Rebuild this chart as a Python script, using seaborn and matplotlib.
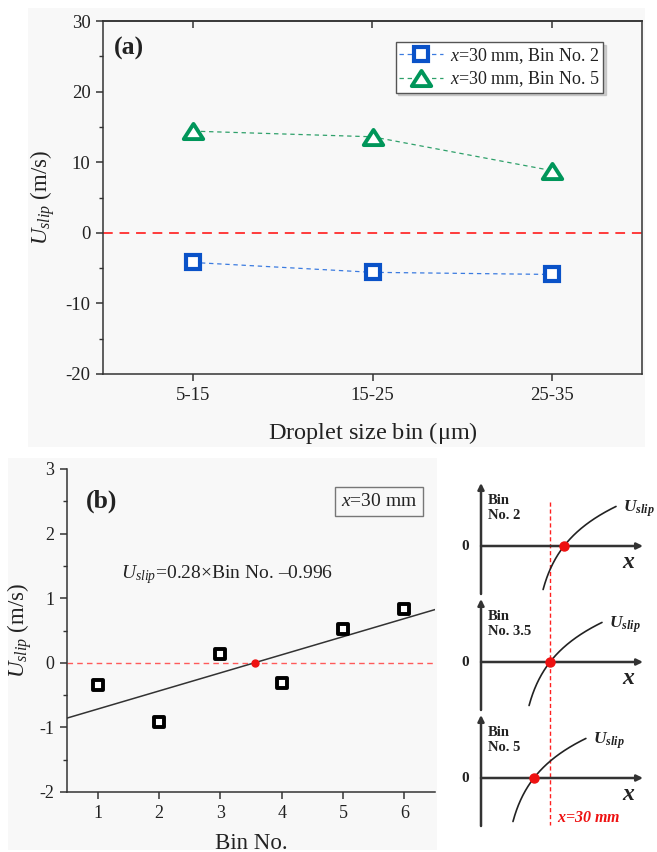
import numpy as np
import pandas as pd
import matplotlib
matplotlib.use("Agg")
import matplotlib.pyplot as plt
from matplotlib.patches import Rectangle
from matplotlib.lines import Line2D
from matplotlib.path import Path
from matplotlib.ticker import MultipleLocator
import seaborn as sns

# ---- panel (a): slip velocity per droplet size bin ----
size_bins = ["5-15", "15-25", "25-35"]
uslip_bin2 = [-4.2, -5.6, -5.9]
uslip_bin5 = [14.4, 13.6, 8.8]
series_labels = [r"$x$=30 mm, Bin No. 2", r"$x$=30 mm, Bin No. 5"]

# ---- panel (b): slip velocity vs bin number at x = 30 mm ----
bin_no = [1, 2, 3, 4, 5, 6]
uslip_30mm = [-0.35, -0.92, 0.14, -0.32, 0.53, 0.83]
fit_slope = 0.28
fit_intercept = -0.996

# ---- schematic: sign change of U_slip along x ----
sketch_bins = ["No. 2", "No. 3.5", "No. 5"]
sketch_crossings = [36.1, 30.0, 23.0]  # x (mm) where U_slip = 0
sketch_x_ref = 30.0

sns.set_theme(style="ticks")
plt.rcParams.update({
    "font.family": ["Liberation Serif", "DejaVu Serif"],
    "mathtext.fontset": "custom",
    "mathtext.rm": "Liberation Serif",
    "mathtext.it": "Liberation Serif:italic",
    "mathtext.bf": "Liberation Serif:bold",
    "mathtext.bfit": "Liberation Serif:bold:italic",
    "axes.unicode_minus": False,
    "axes.edgecolor": "#333333",
    "axes.linewidth": 1.1,
    "xtick.color": "#333333",
    "ytick.color": "#333333",
    "xtick.labelcolor": "#222222",
    "ytick.labelcolor": "#222222",
    "text.color": "#222222",
    "axes.labelcolor": "#222222",
})

W, H = 657, 852
fig = plt.figure(figsize=(W / 100, H / 100), dpi=100)
fig.patch.set_facecolor("white")


def box(l, t, r, b):
    return [l / W, 1 - b / H, (r - l) / W, (b - t) / H]


panel_bg = "#f8f8f8"
for l, t, r, b in [(28, 8, 645, 447), (8, 458, 437, 850)]:
    fig.patches.append(Rectangle((l / W, 1 - b / H), (r - l) / W, (b - t) / H,
                                 transform=fig.transFigure, facecolor=panel_bg,
                                 edgecolor="none", zorder=-10))

# ================= panel (a) =================
ax_a = fig.add_axes(box(103, 21, 642, 374))
ax_a.set_facecolor("none")
ax_a.set_zorder(2)
xpos = np.arange(len(size_bins))

blue_mk, blue_ln = "#0a52c8", "#3b7be0"
green_mk, green_ln = "#00965a", "#2ea06a"
tri = Path([(0, 0.78), (-1, -0.78), (1, -0.78), (0, 0.78)],
           [Path.MOVETO, Path.LINETO, Path.LINETO, Path.CLOSEPOLY])

ax_a.axhline(0, color="#ff3b3b", lw=1.4, ls=(0, (5, 3.5)), zorder=1)

sns.lineplot(x=xpos, y=uslip_bin2, ax=ax_a, sort=False, color=blue_ln, lw=0.9,
             linestyle=(0, (3.5, 3)), marker="s", markersize=9.5,
             markerfacecolor="white", markeredgecolor=blue_mk, markeredgewidth=3,
             zorder=3)
sns.lineplot(x=xpos, y=uslip_bin5, ax=ax_a, sort=False, color=green_ln, lw=0.9,
             linestyle=(0, (3.5, 3)), marker=tri, markersize=14,
             markerfacecolor="white", markeredgecolor=green_mk, markeredgewidth=2.8,
             zorder=3)

ax_a.set_xlim(-0.5, 2.5)
ax_a.set_ylim(-20, 30)
ax_a.set_xticks(xpos, size_bins)
ax_a.yaxis.set_major_locator(MultipleLocator(10))
ax_a.yaxis.set_minor_locator(MultipleLocator(5))
ax_a.tick_params(axis="both", which="major", direction="out", length=5, width=1.1,
                 labelsize=13.5, pad=4)
ax_a.tick_params(axis="y", which="minor", direction="out", length=3, width=1.0)
top = ax_a.secondary_xaxis("top")
top.set_xticks(xpos)
top.tick_params(direction="in", length=5, width=1.1, labeltop=False)
ax_a.set_xlabel(r"Droplet size bin ($\mathrm{\mu}$m)", fontsize=17.5, labelpad=12)
ax_a.set_ylabel(r"$U_{slip}$ (m/s)", fontsize=16.5, labelpad=6)
ax_a.text(0.02, 0.922, "(a)", transform=ax_a.transAxes, fontsize=18.5,
          fontweight="bold", va="center", ha="left")

handles = [
    Line2D([], [], color=blue_ln, lw=0.9, ls=(0, (3.5, 3)), marker="s", ms=9.5,
           mfc="white", mec=blue_mk, mew=3),
    Line2D([], [], color=green_ln, lw=0.9, ls=(0, (3.5, 3)), marker=tri, ms=14,
           mfc="white", mec=green_mk, mew=2.8),
]
leg = ax_a.legend(handles, series_labels, loc="upper right",
                  bbox_to_anchor=(0.928, 0.94), fontsize=13, frameon=True,
                  fancybox=False, shadow={"color": "0.7", "alpha": 0.6},
                  edgecolor="#555555", framealpha=1, handlelength=2.4,
                  handletextpad=0.4, borderpad=0.2, labelspacing=0.2,
                  borderaxespad=0)
leg.get_frame().set_linewidth(1.0)

# ================= panel (b) =================
ax_b = fig.add_axes(box(67, 469, 435, 792))
ax_b.set_facecolor("none")
ax_b.set_zorder(2)
ax_b.set_xlim(0.5, 6.5)
ax_b.set_ylim(-2, 3)
sns.despine(ax=ax_b)

ax_b.axhline(0, color="#ff5a5a", lw=1.0, ls=(0, (4, 3)), zorder=1)
fit_x = np.array(ax_b.get_xlim())
sns.lineplot(x=fit_x, y=fit_slope * fit_x + fit_intercept, ax=ax_b,
             color="#333333", lw=1.1, zorder=2)
sns.scatterplot(x=bin_no, y=uslip_30mm, ax=ax_b, marker="s", s=60,
                facecolor="white", edgecolor="black", linewidths=2.8, zorder=4)
x_zero = -fit_intercept / fit_slope
ax_b.plot([x_zero], [0], "o", color="#ee1111", ms=5, zorder=5)

ax_b.set_xticks(bin_no)
ax_b.yaxis.set_major_locator(MultipleLocator(1))
ax_b.yaxis.set_minor_locator(MultipleLocator(0.5))
ax_b.tick_params(axis="both", which="major", direction="out", length=5, width=1.1,
                 labelsize=13, pad=4)
ax_b.tick_params(axis="y", which="minor", direction="out", length=3, width=1.0)
ax_b.set_xlabel("Bin No.", fontsize=16.5, labelpad=8)
ax_b.set_ylabel(r"$U_{slip}$ (m/s)", fontsize=16.5, labelpad=4)
ax_b.text(0.05, 0.9, "(b)", transform=ax_b.transAxes, fontsize=18.5,
          fontweight="bold", va="center", ha="left")
ax_b.text(0.147, 0.672,
          r"$U_{slip}$=%.2f×Bin No. –%.3f" % (fit_slope, -fit_intercept),
          transform=ax_b.transAxes, fontsize=14, va="center", ha="left")
ax_b.text(0.848, 0.9, r"$x$=30 mm", transform=ax_b.transAxes, fontsize=14,
          va="center", ha="center",
          bbox=dict(boxstyle="square,pad=0.3", facecolor="none",
                    edgecolor="#777777", lw=1.0))

# ================= schematic =================
px_per_mm = 2.3
ax_s = fig.add_axes(box(455, 470, 657, 852))
ax_s.set_xlim((455 - 481) / px_per_mm, (657 - 481) / px_per_mm)
ax_s.set_ylim(852, 470)
ax_s.axis("off")

baselines = [546, 662, 778]
axis_dark = "#333333"
arrow_kw = dict(arrowstyle="-|>", color=axis_dark, lw=1.8, mutation_scale=9,
                shrinkA=0, shrinkB=0)
x_end = (643 - 481) / px_per_mm
dx = np.linspace(-9.1, 22.6, 200)
for bname, xc, yb in zip(sketch_bins, sketch_crossings, baselines):
    ax_s.annotate("", xy=(0, yb - 63), xytext=(0, yb + 48), arrowprops=arrow_kw)
    ax_s.annotate("", xy=(x_end, yb), xytext=(0, yb), arrowprops=arrow_kw)
    curve = 41 * np.log1p(dx * px_per_mm / 32)
    sns.lineplot(x=xc + dx, y=yb - curve, ax=ax_s, sort=False, color="#222222",
                 lw=1.2)
    ax_s.plot([xc], [yb], "o", color="#ee1111", ms=6.5, zorder=6)
    ax_s.text(-7, yb, "0", fontsize=11, fontweight="bold", ha="center",
              va="center")
    ax_s.text(3, yb - 52, "Bin\n" + bname, fontsize=10.5, fontweight="bold",
              ha="left", va="top", linespacing=1.2)
    ax_s.text(xc + 25.5, yb - 37, r"$\mathbfit{U}_{\mathbfit{slip}}$",
              fontsize=12.5, ha="left", va="center")
    ax_s.text(61.5, yb + 17, r"$\mathbfit{x}$", fontsize=17, ha="left",
              va="center")

ax_s.plot([sketch_x_ref, sketch_x_ref], [502, 825], color="#ff2020", lw=1.0,
          ls=(0, (3, 2)), zorder=1)
ax_s.text(sketch_x_ref + 3, 818, r"$\mathbfit{x}$=30 mm", fontsize=11.5,
          color="#ee1111", fontweight="bold", fontstyle="italic",
          ha="left", va="center")

fig.savefig("out.png", dpi=100)
